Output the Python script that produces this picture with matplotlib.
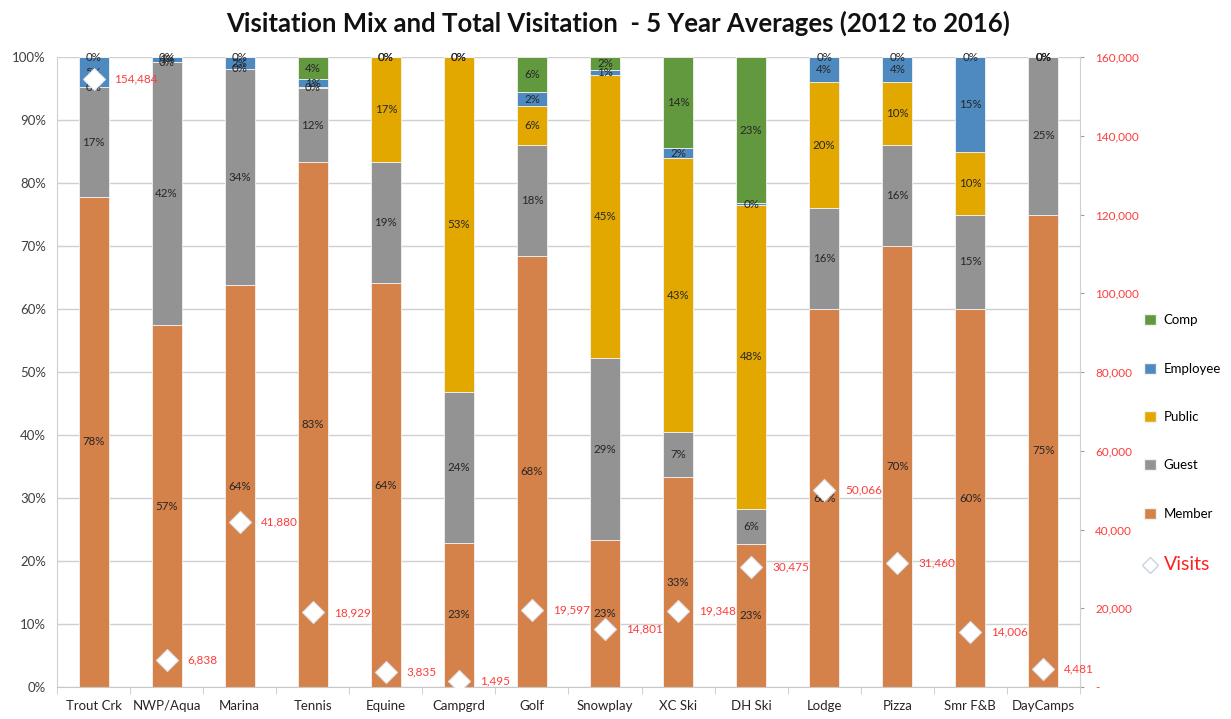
import numpy as np
import matplotlib.pyplot as plt
from matplotlib.patches import Patch
from matplotlib.lines import Line2D

plt.rcParams['font.family'] = ['Lato', 'DejaVu Sans']

# categories and visitation mix (percent of visits)
sites    = ["Trout Crk", "NWP/Aqua", "Marina", "Tennis", "Equine", "Campgrd", "Golf",
            "Snowplay", "XC Ski", "DH Ski", "Lodge", "Pizza", "Smr F&B", "DayCamps"]
member   = [77.8, 57.4, 63.8, 83.3, 64.1, 22.9, 68.4, 23.3, 33.3, 22.7, 60.0, 70.0, 60.0, 75.0]
guest    = [17.4, 41.8, 34.3, 11.8, 19.2, 23.9, 17.6, 28.9,  7.2,  5.6, 16.0, 16.0, 15.0, 25.0]
public   = [ 0.0,  0.0,  0.0,  0.1, 16.7, 53.2,  6.2, 45.0, 43.4, 48.2, 20.0, 10.0, 10.0,  0.0]
employee = [ 4.8,  0.8,  1.9,  1.3,  0.0,  0.0,  2.2,  0.8,  1.7,  0.3,  4.0,  4.0, 15.0,  0.0]
comp     = [ 0.0,  0.0,  0.0,  3.5,  0.0,  0.0,  5.6,  2.0, 14.4, 23.2,  0.0,  0.0,  0.0,  0.0]

# average yearly visits
visits = [154484, 6838, 41880, 18929, 3835, 1495, 19597, 14801, 19348, 30475, 50066, 31460, 14006, 4481]

series = [("Member", member, "#D5824A"),
          ("Guest", guest, "#939393"),
          ("Public", public, "#E3A800"),
          ("Employee", employee, "#4E8AC0"),
          ("Comp", comp, "#62993E")]

fig = plt.figure(figsize=(12.31, 7.19), dpi=100)
ax = fig.add_axes([0.0463, 0.0445, 0.8310, 0.8762])
x = np.arange(len(sites))

bottom = np.zeros(len(sites))
for name, vals, col in series:
    vals = np.array(vals)
    ax.bar(x, vals, 0.41, bottom=bottom, color=col, edgecolor="#f2f2f2", linewidth=0.6, zorder=2)
    for xi, b, v in zip(x, bottom, vals):
        ax.text(xi, b + v / 2, "%.0f%%" % v, ha="center", va="center", fontsize=8.3, color="#262626", zorder=3)
    bottom += vals

ax.set_xlim(-0.5, len(sites) - 0.5)
ax.set_ylim(0, 100)
ax.set_yticks(np.arange(0, 101, 10))
ax.set_yticklabels(["%d%%" % v for v in range(0, 101, 10)], fontsize=9.5, color="#404040")
ax.yaxis.grid(True, color="#d0d0d0", linewidth=1, zorder=0)
ax.set_axisbelow(True)
ax.set_xticks(x)
ax.set_xticklabels(sites, fontsize=9.5, color="#262626")
ax.set_xticks(np.arange(-0.5, len(sites), 1), minor=True)
ax.tick_params(axis="x", which="major", length=0, pad=9)
ax.tick_params(axis="x", which="minor", length=5, color="#c8c8c8")
ax.tick_params(axis="y", length=0, pad=8)
for s in ["top", "right"]:
    ax.spines[s].set_visible(False)
ax.spines["left"].set_color("#d0d0d0")
ax.spines["bottom"].set_color("#c8c8c8")

# total visits on the secondary axis
ax2 = ax.twinx()
ax2.set_ylim(0, 160000)
ax2.set_yticks(np.arange(0, 160001, 20000))
ax2.set_yticklabels(["-"] + ["{:,}".format(v) for v in range(20000, 160001, 20000)],
                    fontsize=8.5, color="#FF3B3B")
ax2.tick_params(axis="y", length=3, color="#a0a0a0", pad=8)
for s in ["top", "left", "bottom"]:
    ax2.spines[s].set_visible(False)
ax2.spines["right"].set_color("#d0d0d0")
ax2.plot(x, visits, linestyle="none", marker="D", markersize=11, markerfacecolor="white",
         markeredgecolor="#dfe4ee", markeredgewidth=0.8, zorder=4)
for xi, v in zip(x, visits):
    ax2.annotate("{:,}".format(v), (xi, v), xytext=(15, 0), textcoords="offset points",
                 ha="left", va="center", fontsize=8.5, color="#FF3B3B")

fig.suptitle("Visitation Mix and Total Visitation  - 5 Year Averages (2012 to 2016)",
             x=0.502, y=0.985, fontsize=18.5, fontweight="bold", color="#111111")

handles = [Patch(facecolor=c, edgecolor="#f2f2f2") for _, _, c in series[::-1]]
labels = [n for n, _, _ in series[::-1]]
handles.append(Line2D([], [], linestyle="none", marker="D", markersize=8, markerfacecolor="white",
                      markeredgecolor="#c9d1e3"))
labels.append("Visits")
leg = fig.legend(handles, labels, loc="upper left", bbox_to_anchor=(0.924, 0.572), frameon=False,
                 fontsize=9.5, labelspacing=2.75, handlelength=0.9, handleheight=0.9, handletextpad=0.6,
                 borderpad=0)
txt = leg.get_texts()[-1]
txt.set_color("#FF2020")
txt.set_fontsize(14)

plt.savefig("out.png", dpi=100)
